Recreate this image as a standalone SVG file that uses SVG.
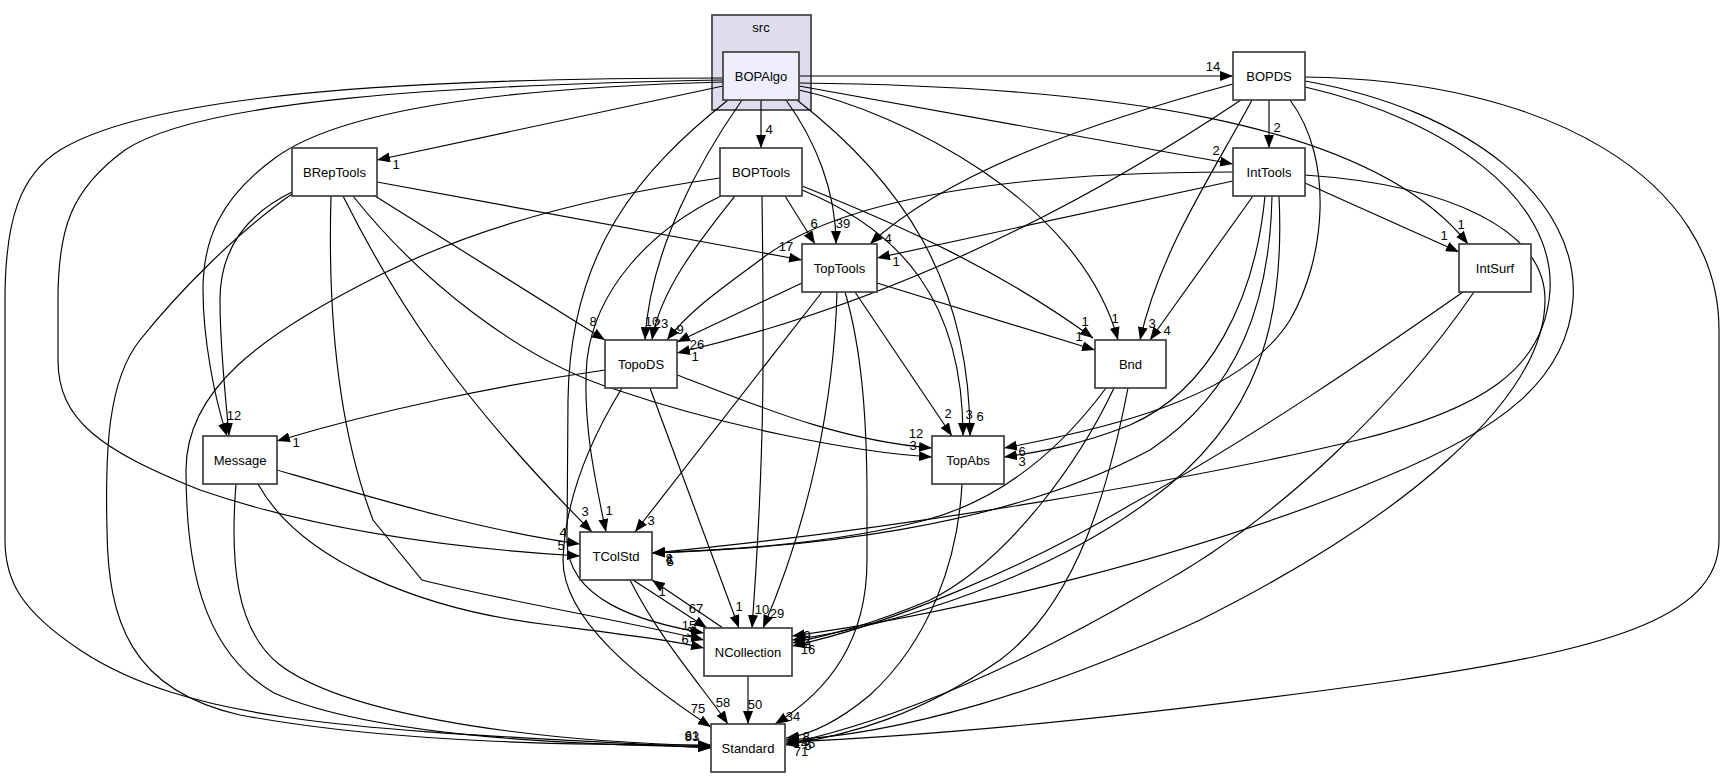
<svg xmlns="http://www.w3.org/2000/svg" width="1725" height="777" viewBox="0 0 1725 777">
<defs>
<style>
text{font-family:"Liberation Sans",Arial,sans-serif;font-size:13px;fill:#000}
.n rect{fill:#fff;stroke:#404040;stroke-width:1.7}
.n text,.l text{text-anchor:middle}
.e path{fill:none;stroke:#000;stroke-width:1.15;marker-end:url(#arr)}
</style>
<marker id="arr" markerUnits="userSpaceOnUse" markerWidth="13" markerHeight="10" refX="13" refY="5" orient="auto" viewBox="0 0 13 10">
<path d="M0,0 L13,5 L0,10 z" fill="#000"/>
</marker>
</defs>
<rect width="1725" height="777" fill="#fff"/>
<g id="cluster_src">
<rect x="712" y="15" width="99" height="95" fill="#ddddee" stroke="#404040" stroke-width="1.7"/>
<text x="761" y="32" text-anchor="middle">src</text>
</g>
<g id="connectors">
<g class="e">
<path d="M799,76 L1233,76"/>
<path d="M723,86 L377,160"/>
<path d="M761,100 L761,148"/>
<path d="M799,86 L1233,164"/>
<path d="M799,83 C1100,86 1370,120 1468,244"/>
<path d="M786,100 C815,140 836,190 836,244"/>
<path d="M742,100 C700,160 650,250 645,340"/>
<path d="M723,82 C500,88 340,110 275,158 C220,198 203,240 203,290 C203,340 215,400 227,436"/>
<path d="M799,90 C900,112 1080,200 1118,340"/>
<path d="M797,100 C900,180 970,280 970,436"/>
<path d="M723,80 C450,85 200,100 125,150 C70,190 58,230 58,300 L58,360 C58,420 100,450 200,490 C330,535 480,550 580,556"/>
<path d="M728,100 C640,170 570,250 568,400 L567,540 C567,600 640,622 704,633"/>
<path d="M723,78 C400,78 150,95 60,150 C20,175 5,220 5,300 L5,540 C5,580 20,610 80,650 C200,730 400,730 711,748"/>
<path d="M377,182 L802,260"/>
<path d="M375,196 L605,340"/>
<path d="M292,192 C245,215 220,250 220,300 C220,350 226,400 229,436"/>
<path d="M353,196 C420,280 520,360 617,390 C720,425 850,452 932,457"/>
<path d="M343,196 C390,290 450,390 592,532"/>
<path d="M331,196 C328,300 335,420 373,520 L422,580 C500,600 620,620 704,640"/>
<path d="M292,194 C240,230 180,290 140,340 C108,380 105,450 107,530 C108,620 130,690 240,715 C400,745 600,745 711,745"/>
<path d="M785,196 L815,244"/>
<path d="M735,196 C700,240 660,290 652,340"/>
<path d="M802,186 C900,225 1000,270 1093,338"/>
<path d="M802,190 C900,230 963,300 963,436"/>
<path d="M721,196 C650,230 595,290 587,360 C582,420 595,480 606,532"/>
<path d="M762,196 C764,350 765,450 752,628"/>
<path d="M720,178 C600,195 480,225 380,275 C260,335 186,390 186,470 C186,560 200,650 274,693 C380,740 600,745 711,747"/>
<path d="M1269,100 L1269,148"/>
<path d="M1233,84 C1100,120 950,170 870,244"/>
<path d="M1241,100 Q961,287 677,353"/>
<path d="M1252,100 C1215,170 1160,250 1140,340"/>
<path d="M1290,100 C1335,160 1325,260 1290,320 C1240,400 1100,430 1004,448"/>
<path d="M1305,87 C1450,120 1555,200 1550,290 C1545,370 1480,410 1358,440 C1200,478 900,530 652,553"/>
<path d="M1305,81 C1470,110 1580,200 1573,300 C1567,380 1500,430 1385,477 C1200,555 950,615 792,636"/>
<path d="M1305,77 C1550,80 1719,180 1719,330 L1719,540 C1719,620 1600,650 1400,680 C1150,715 950,735 786,742"/>
<path d="M1305,183 L1459,252"/>
<path d="M1233,181 L877,258"/>
<path d="M1233,172 C1050,172 850,190 760,260 C720,290 690,310 667,340"/>
<path d="M1253,196 L1150,340"/>
<path d="M1265,196 C1255,300 1210,390 1130,425 C1080,445 1040,452 1004,457"/>
<path d="M1272,196 C1270,300 1240,390 1150,450 C1000,530 800,548 652,553"/>
<path d="M1279,196 C1285,320 1260,420 1150,500 C1050,575 900,625 792,640"/>
<path d="M1305,175 C1450,185 1545,230 1545,300 C1545,400 1400,520 1200,620 C1050,690 900,735 786,740"/>
<path d="M802,283 L677,342"/>
<path d="M877,283 L1095,350"/>
<path d="M855,292 L952,436"/>
<path d="M822,292 L635,532"/>
<path d="M837,292 C834,400 810,520 763,628"/>
<path d="M845,292 C862,350 867,420 867,500 L867,560 C867,640 830,690 775,724"/>
<path d="M605,370 C500,385 380,410 277,441"/>
<path d="M677,375 C740,398 830,440 932,448"/>
<path d="M650,388 L739,628"/>
<path d="M622,388 C590,440 565,500 563,560 C563,620 640,680 711,727"/>
<path d="M277,470 C380,500 480,530 580,544"/>
<path d="M258,484 C300,560 420,610 550,625 C620,634 670,640 704,648"/>
<path d="M236,484 C230,560 235,630 280,665 C340,710 500,740 711,746"/>
<path d="M1106,388 C1060,450 1000,500 926,520 C830,545 720,550 652,553"/>
<path d="M1114,388 C1080,460 1010,560 930,600 C870,625 830,635 792,643"/>
<path d="M1128,388 C1110,480 1080,600 1000,660 C920,715 850,735 786,745"/>
<path d="M962,484 C958,560 930,640 870,695 C840,720 810,735 786,738"/>
<path d="M1463,292 C1380,350 1250,440 1130,505 C1030,565 890,625 792,646"/>
<path d="M1474,292 C1400,400 1280,520 1150,590 C1030,660 900,720 786,744"/>
<path d="M633,580 L707,628"/>
<path d="M630,580 C660,640 705,690 728,724"/>
<path d="M723,628 L652,580"/>
<path d="M748,676 L748,724"/>
</g>
<g class="l">
<text x="1213" y="71">14</text>
<text x="396" y="169">1</text>
<text x="769" y="134">4</text>
<text x="1216" y="155">2</text>
<text x="1461" y="229">1</text>
<text x="843" y="228">39</text>
<text x="652" y="326">10</text>
<text x="661" y="328">23</text>
<text x="234" y="420">12</text>
<text x="1115" y="323">1</text>
<text x="980" y="421">6</text>
<text x="561" y="550">5</text>
<text x="689" y="630">15</text>
<text x="690" y="636">3</text>
<text x="692" y="740">61</text>
<text x="692" y="741">83</text>
<text x="1277" y="132">2</text>
<text x="888" y="243">4</text>
<text x="695" y="361">1</text>
<text x="1152" y="328">3</text>
<text x="1022" y="456">6</text>
<text x="1022" y="466">3</text>
<text x="1444" y="240">1</text>
<text x="896" y="266">1</text>
<text x="680" y="334">9</text>
<text x="1167" y="335">4</text>
<text x="786" y="251">17</text>
<text x="593" y="326">8</text>
<text x="916" y="438">12</text>
<text x="913" y="450">3</text>
<text x="585" y="516">3</text>
<text x="814" y="228">6</text>
<text x="1085" y="326">1</text>
<text x="1079" y="341">1</text>
<text x="969" y="419">3</text>
<text x="609" y="515">1</text>
<text x="762" y="614">10</text>
<text x="697" y="349">26</text>
<text x="948" y="418">2</text>
<text x="651" y="525">3</text>
<text x="777" y="618">29</text>
<text x="793" y="721">34</text>
<text x="296" y="447">1</text>
<text x="739" y="611">1</text>
<text x="698" y="713">75</text>
<text x="563" y="537">4</text>
<text x="685" y="644">6</text>
<text x="696" y="613">67</text>
<text x="723" y="707">58</text>
<text x="662" y="596">1</text>
<text x="755" y="709">50</text>
<text x="669" y="563">8</text>
<text x="670" y="566">5</text>
<text x="670" y="564">1</text>
<text x="807" y="640">9</text>
<text x="807" y="645">2</text>
<text x="808" y="650">4</text>
<text x="808" y="654">16</text>
<text x="806" y="741">8</text>
<text x="806" y="745">6</text>
<text x="808" y="748">45</text>
<text x="808" y="750">5</text>
<text x="801" y="756">71</text>
</g>
</g>
<g id="node_BOPAlgo" class="n"><rect x="723" y="52" width="76" height="48" style="fill:#eeeeff"/><text x="761" y="81">BOPAlgo</text></g>
<g id="node_BOPDS" class="n"><rect x="1233" y="52" width="72" height="48"/><text x="1269" y="81">BOPDS</text></g>
<g id="node_IntTools" class="n"><rect x="1233" y="148" width="72" height="48"/><text x="1269" y="177">IntTools</text></g>
<g id="node_IntSurf" class="n"><rect x="1459" y="244" width="72" height="48"/><text x="1495" y="273">IntSurf</text></g>
<g id="node_BRepTools" class="n"><rect x="292" y="148" width="85" height="48"/><text x="334.5" y="177">BRepTools</text></g>
<g id="node_BOPTools" class="n"><rect x="720" y="148" width="82" height="48"/><text x="761" y="177">BOPTools</text></g>
<g id="node_TopTools" class="n"><rect x="802" y="244" width="75" height="48"/><text x="839.5" y="273">TopTools</text></g>
<g id="node_TopoDS" class="n"><rect x="605" y="340" width="72" height="48"/><text x="641" y="369">TopoDS</text></g>
<g id="node_Bnd" class="n"><rect x="1095" y="340" width="71" height="48"/><text x="1130.5" y="369">Bnd</text></g>
<g id="node_Message" class="n"><rect x="203" y="436" width="74" height="48"/><text x="240" y="465">Message</text></g>
<g id="node_TopAbs" class="n"><rect x="932" y="436" width="72" height="48"/><text x="968" y="465">TopAbs</text></g>
<g id="node_TColStd" class="n"><rect x="580" y="532" width="72" height="48"/><text x="616" y="561">TColStd</text></g>
<g id="node_NCollection" class="n"><rect x="704" y="628" width="88" height="48"/><text x="748" y="657">NCollection</text></g>
<g id="node_Standard" class="n"><rect x="711" y="724" width="74" height="48"/><text x="748" y="753">Standard</text></g>
</svg>
